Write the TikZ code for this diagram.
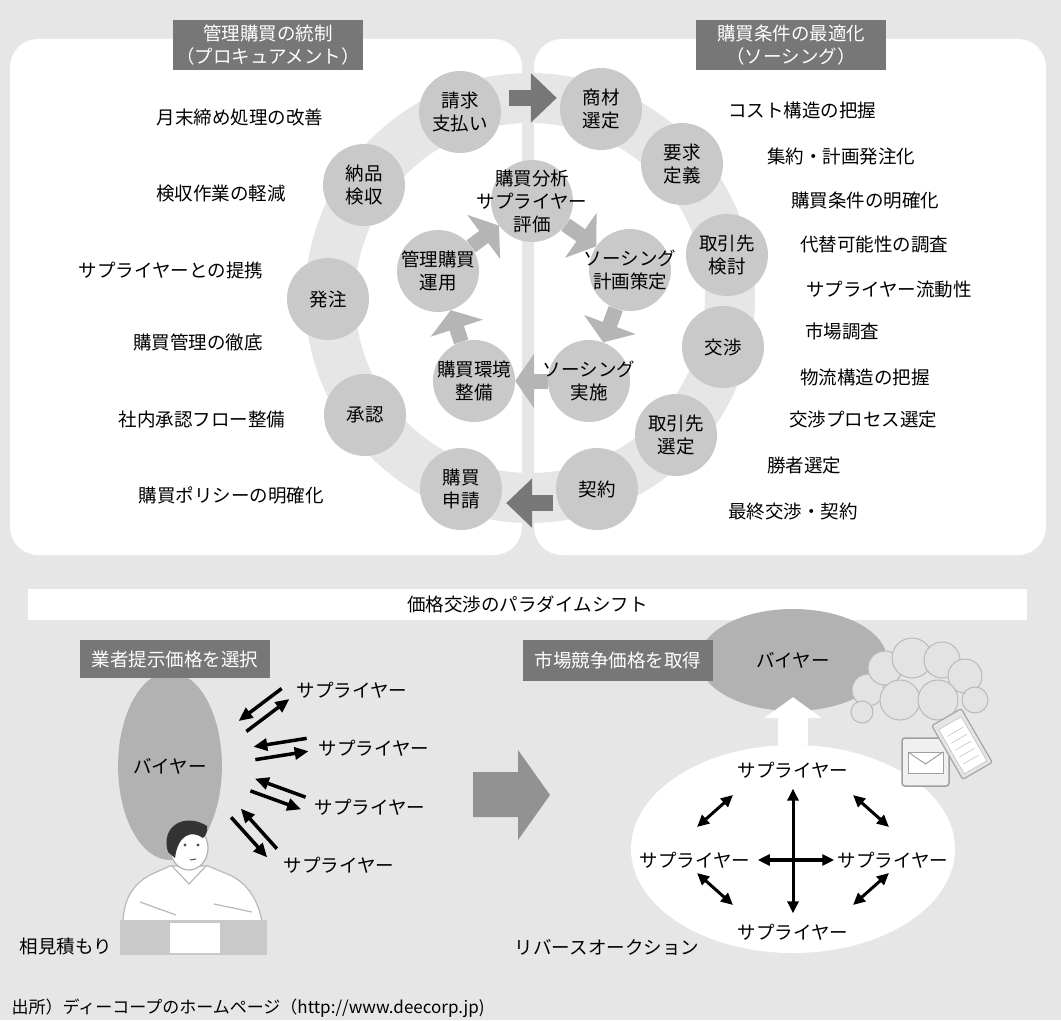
\documentclass[tikz,border=0pt]{standalone}
\usepackage{fontspec}
\setmainfont{Noto Sans CJK JP}
\usetikzlibrary{arrows.meta,shapes.geometric,calc}

\definecolor{bggray}{HTML}{E6E6E6}
\definecolor{stagegray}{HTML}{C9C9C9}
\definecolor{headgray}{HTML}{777777}
\definecolor{flowgray}{HTML}{B5B5B5}
\definecolor{buyergray}{HTML}{B2B2B2}
\definecolor{shiftgray}{HTML}{929292}

\pgfdeclarelayer{back}
\pgfdeclarelayer{links}
\pgfsetlayers{back,links,main}

\begin{document}
\begin{tikzpicture}[
		x=1pt, y=-1pt,
		font=\fontsize{18.5}{23}\selectfont,
		stage/.style={circle, fill=stagegray, minimum size=82, inner sep=-30, align=center},
		heading/.style={fill=headgray, text=white, inner sep=0, align=center},
		flow/.style={line width=15, draw=flowgray, -{Triangle[width=54pt,length=19pt]}},
		turn/.style={line width=16, draw=headgray, -{Triangle[width=48pt,length=26pt]}},
		buyer/.style={ellipse, fill=buyergray, inner sep=0},
		swap/.style={line width=3.5, -{Triangle[width=12pt,length=14pt]}},
		link/.style={line width=3, {Triangle[width=11pt,length=12pt]}-{Triangle[width=11pt,length=12pt]}}
	]

	\begin{pgfonlayer}{back}
		\fill[bggray] (0,0) rectangle (1061,1020);
		\fill[white, rounded corners=28] (10,39) rectangle (522,555);
		\fill[white, rounded corners=28] (534,39) rectangle (1046,555);
		\draw[bggray, line width=50] (530,298) circle[radius=200];
	\end{pgfonlayer}

	% procurement / sourcing headings
	\node[heading, minimum width=190, minimum height=50] (procure) at (268,45) {管理購買の統制\\（プロキュアメント）};
	\node[heading, minimum width=190, minimum height=50] (sourcing) at (791,45) {購買条件の最適化\\（ソーシング）};

	% outer cycle
	\node[stage] (pay) at (460,112) {請求\\支払い};
	\node[stage] (receive) at (364,185) {納品\\検収};
	\node[stage] (order) at (328,299) {発注};
	\node[stage] (approve) at (365,415) {承認};
	\node[stage] (request) at (461,489) {購買\\申請};
	\node[stage] (item) at (601,109) {商材\\選定};
	\node[stage] (spec) at (682,164) {要求\\定義};
	\node[stage] (review) at (727,255) {取引先\\検討};
	\node[stage] (nego) at (723,347) {交渉};
	\node[stage] (pick) at (676,435) {取引先\\選定};
	\node[stage] (contract) at (597,489) {契約};

	\draw[turn, shorten <=10, shorten >=3] (pay.20) -- (pay.20 -| item.west);
	\draw[turn, shorten <=5, shorten >=4] (contract.200) -- (contract.200 -| request.east);

	% inner cycle
	\node[stage] (analysis) at (532,201) {購買分析\\サプライヤー\\評価};
	\node[stage] (plan) at (630,270) {ソーシング\\計画策定};
	\node[stage] (run) at (589,381) {ソーシング\\実施};
	\node[stage] (env) at (474,381) {購買環境\\整備};
	\node[stage] (ops) at (438,271) {管理購買\\運用};

	\begin{pgfonlayer}{links}
		\draw[flow] (ops) -- (analysis);
		\draw[flow] (analysis) -- (plan);
		\draw[flow] (plan) -- (run);
		\draw[flow] (run) -- (env);
		\draw[flow] (env) -- (ops);
	\end{pgfonlayer}

	\foreach \txt/\x/\y [count=\i] in {月末締め処理の改善/240/117, 検収作業の軽減/221/194,
			サプライヤーとの提携/171/270, 購買管理の徹底/198/342,
			社内承認フロー整備/202/419, 購買ポリシーの明確化/231/495}
		\node (ctl\i) at (\x,\y) {\txt};

	\foreach \txt/\x/\y [count=\i] in {コスト構造の把握/802/110, 集約・計画発注化/841/156,
			購買条件の明確化/865/201, 代替可能性の調査/874/245,
			サプライヤー流動性/889/290, 市場調査/842/331, 物流構造の把握/865/377,
			交渉プロセス選定/863/420, 勝者選定/804/466, 最終交渉・契約/793/512}
		\node (src\i) at (\x,\y) {\txt};

	% paradigm shift
	\node[fill=white, minimum width=999, minimum height=31, inner sep=0] (shift) at (527.5,604.5) {価格交渉のパラダイムシフト};

	% left: quotes from each supplier
	\node[buyer, minimum width=100, minimum height=188] (buyL) at (170,766) {バイヤー};
	\node[heading, minimum width=190, minimum height=38] (quote) at (175,659) {業者提示価格を選択};

	\fill[white, draw=gray!55, line width=1.2] (123,921) .. controls (124,900) and (132,884) .. (152,874)
		-- (170,866) -- (208,866) -- (232,876) .. controls (250,886) and (258,902) .. (262,921) -- cycle;
	\draw[gray!55, line width=1.2] (140,902) -- (176,915) (214,904) -- (252,912) (172,866) -- (189,884) -- (206,866);
	\fill[white, draw=gray!60, line width=1.2] (189,848) ellipse[x radius=19, y radius=22];
	\fill[black!80] (168,852) .. controls (160,826) and (185,812) .. (207,826)
		.. controls (208,833) and (205,836) .. (203,838) .. controls (192,830) and (178,834) .. (175,858) -- cycle;
	\fill[black!70] (185,845) circle[radius=1.6] (198,845) circle[radius=1.6];
	\draw[black!70, line width=1] (190,860) -- (196,859);
	\fill[stagegray] (120,920) rectangle (267,955);
	\fill[white] (170,923) rectangle (220,953);

	\node (sup1) at (352,690) {サプライヤー};
	\node (sup2) at (374,748) {サプライヤー};
	\node (sup3) at (370,807) {サプライヤー};
	\node (sup4) at (339,865) {サプライヤー};

	\foreach \x/\y/\a in {264/710/37, 281/749/9, 278/794/-20, 254/833/-48} {
		\begin{scope}[shift={(\x,\y)}, rotate=\a]
			\draw[swap] (-27,6.5) -- (27,6.5);
			\draw[swap] (27,-6.5) -- (-27,-6.5);
		\end{scope}
	}

	\node (multi) at (66,947) {相見積もり};

	\fill[shiftgray] (473,772) -- (518,772) -- (518,750) -- (550,795) -- (518,840) -- (518,817) -- (473,817) -- cycle;

	% right: reverse auction
	\node[buyer, minimum width=188, minimum height=102] (buyR) at (793,660) {バイヤー};
	\node[heading, minimum width=190, minimum height=41] (market) at (618,660.5) {市場競争価格を取得};
	\node[ellipse, fill=white, minimum width=324, minimum height=208] (pool) at (793,849) {};
	\draw[white, line width=30, -{Triangle[width=57pt,length=21pt]}, shorten >=-14] (pool.north) -- (buyR.south);

	\foreach \cx/\cy/\r in {868/690/16, 885/668/17, 912/658/20, 942/660/18, 965/676/17,
			975/700/13, 900/700/20, 938/700/20, 862/712/11}
		\fill[gray!22, draw=gray!55, line width=1] (\cx,\cy) circle[radius=\r];
	\draw[fill=gray!12, draw=gray!75, line width=1.5, rounded corners=3] (902,738) rectangle (949,786);
	\draw[fill=white, draw=gray!75, line width=1] (908,752) rectangle (943,773);
	\draw[gray!75, line width=1] (908,752) -- (925.5,764) -- (943,752);
	\begin{scope}[shift={(962,744)}, rotate=30]
		\draw[fill=gray!20, draw=gray!70, line width=1.2, rounded corners=2] (-17,-31) rectangle (17,31);
		\draw[fill=white, draw=gray!60] (-13,-24) rectangle (13,27);
		\foreach \l in {-14,-6,2,10,18}
			\draw[gray!60] (-9,\l) -- (9,\l);
	\end{scope}

	\node (sN) at (793,770) {サプライヤー};
	\node (sW) at (695,860) {サプライヤー};
	\node (sE) at (893,860) {サプライヤー};
	\node (sS) at (793,932) {サプライヤー};

	\draw[link, shorten <=7, shorten >=7] (sN) -- (sS);
	\draw[link, line width=4, shorten <=4] (sW) -- (sE);
	\coordinate (hub) at (793,850);
	\foreach \dx/\dy/\ex/\ey in {-96/-23/-60/-55, 60/-55/96/-23, -96/23/-60/55, 60/55/96/23}
		\draw[link] ($(hub)+(\dx,\dy)$) -- ($(hub)+(\ex,\ey)$);

	\node (auction) at (607,947) {リバースオークション};

	\node[anchor=west, font=\fontsize{17}{20}\selectfont] (source) at (8,1008) {出所）ディーコープのホームページ（http://www.deecorp.jp)};
\end{tikzpicture}
\end{document}
